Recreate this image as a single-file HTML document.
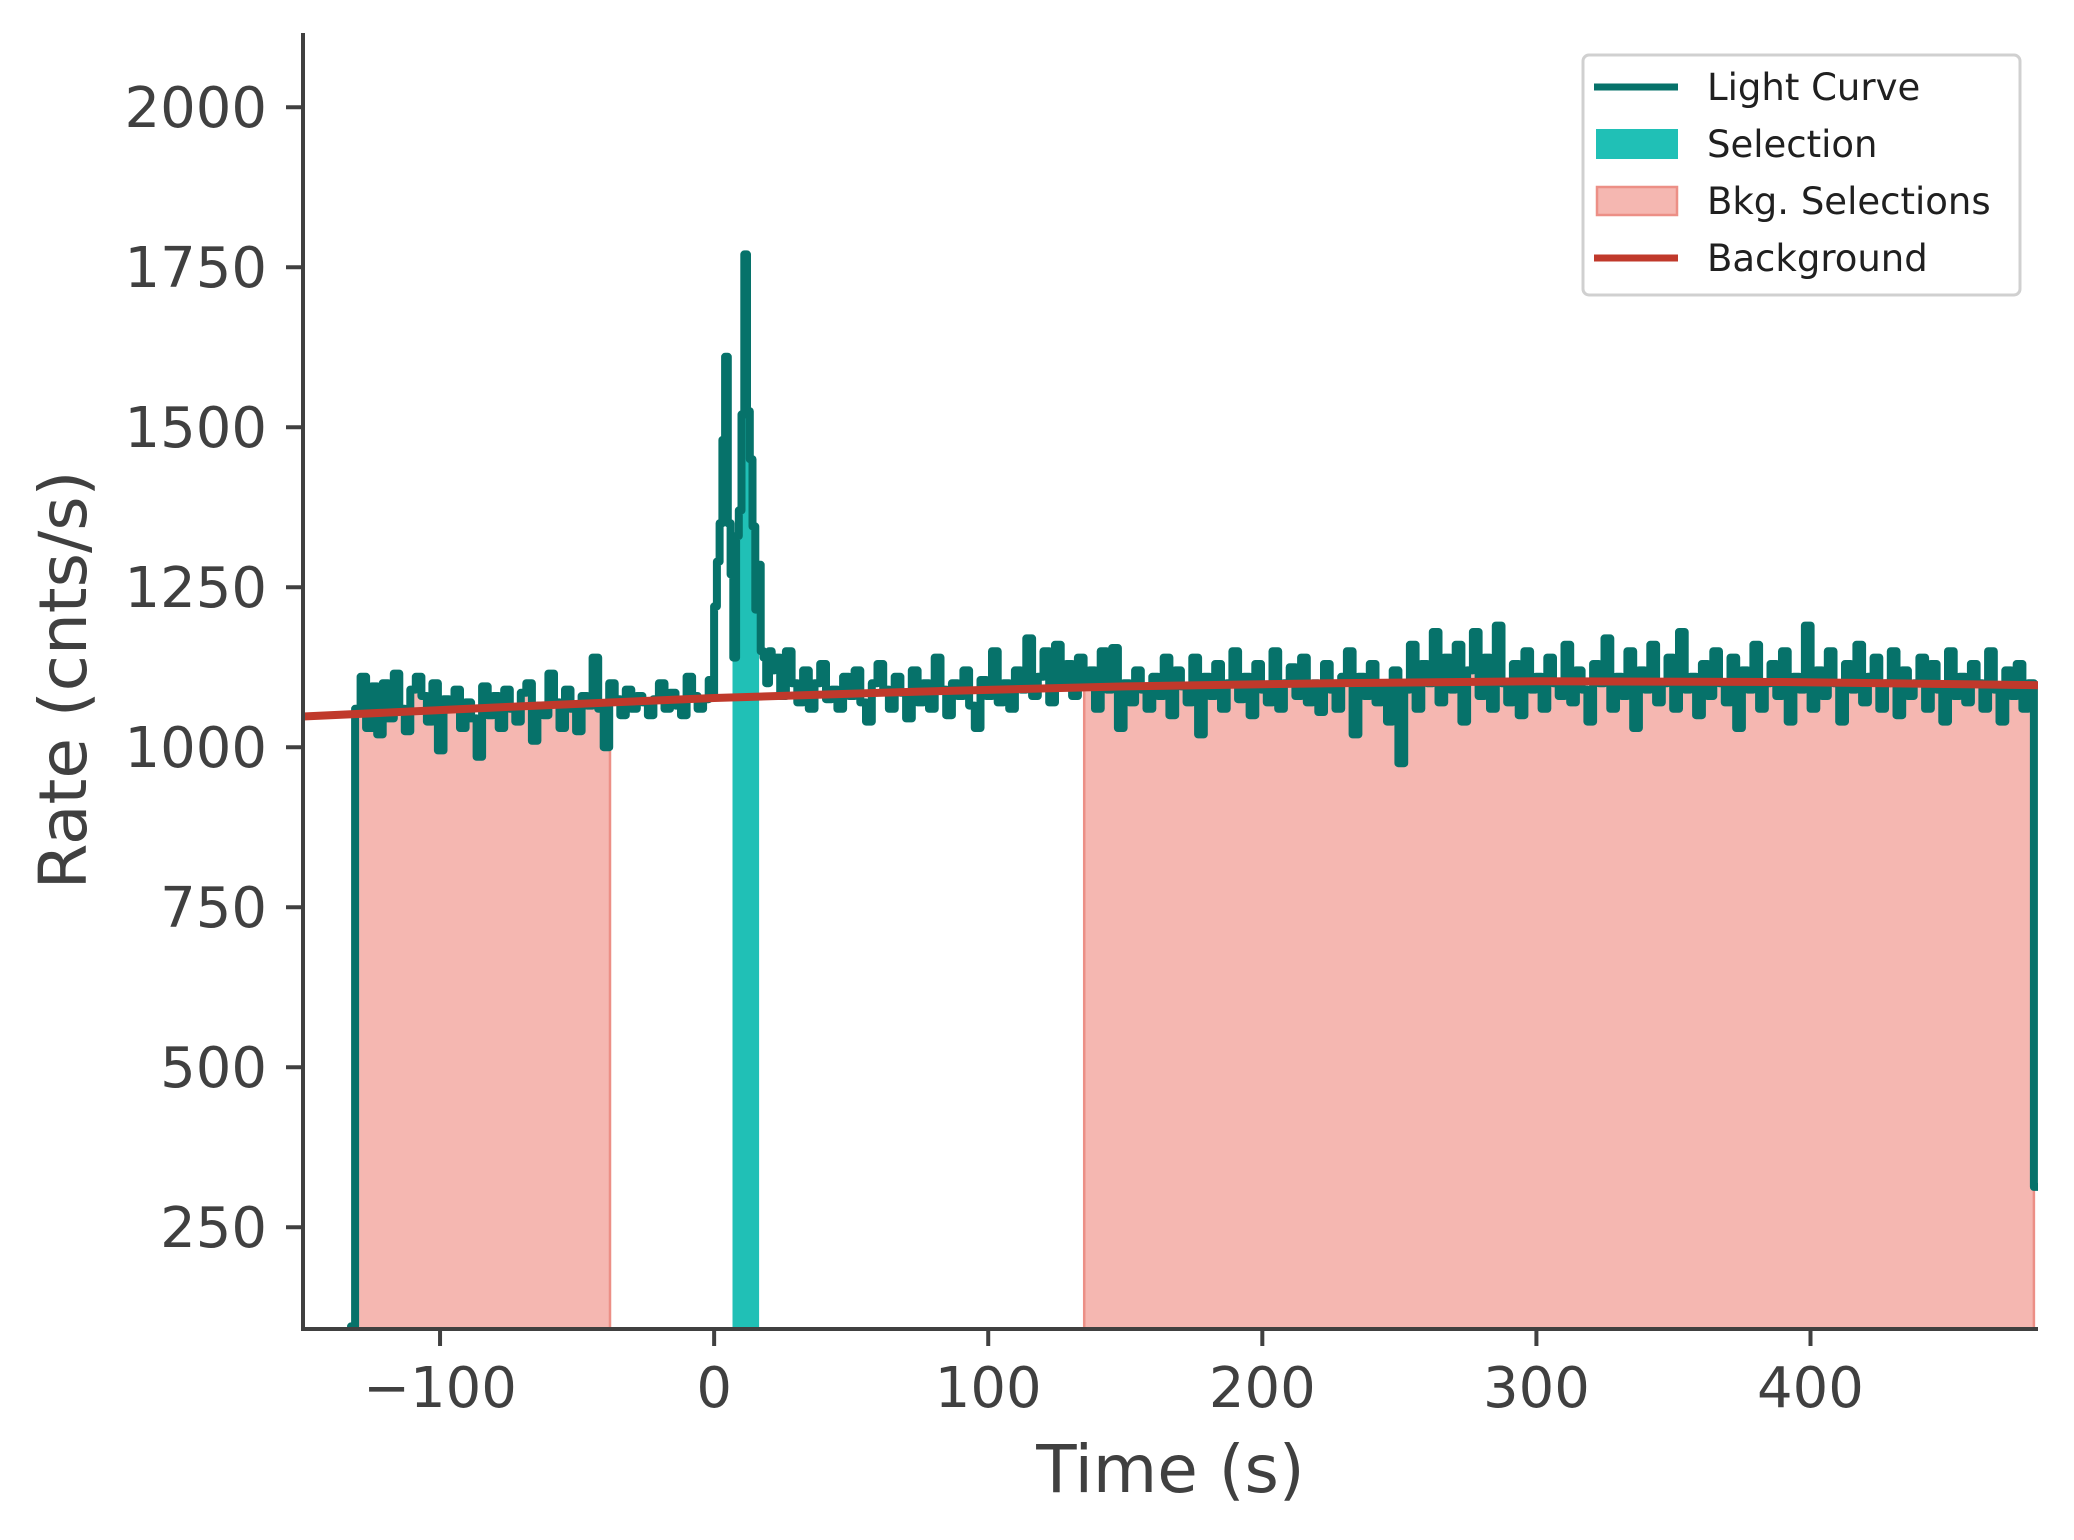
<!DOCTYPE html>
<html><head><meta charset="utf-8"><style>
html,body{margin:0;padding:0;background:#fff;}
svg{display:block;font-family:"DejaVu Sans","Liberation Sans",sans-serif;}
</style></head><body>
<svg id="chart" width="2074" height="1540" viewBox="0 0 2074 1540" xmlns="http://www.w3.org/2000/svg">
<g id="plot"></g>
<g id="axes"></g>
<g id="legend"></g>
</svg>
<script>
const xTicks=[-100,0,100,200,300,400];
const xTickLabels=["\u2212100","0","100","200","300","400"];
const yTicks=[250,500,750,1000,1250,1500,1750,2000];
const yTickLabels=["250","500","750","1000","1250","1500","1750","2000"];
const selection=[6.7,16.4];
const bkgSelections=[[-130.2,-38],[135,481.5]];
const bkgTimes=[-150,-75,0,75,150,225,300,390,483];
const bkgRates=[1048,1063,1077,1087,1095,1100,1103,1102,1097];
const lcStart=-132.5;
const preStartRate=[95];
const preRates=[1060,1110,1030,1095,1020,1100,1045,1115,1060,1025,1090,1110,1080,1040,1100,995,1075,1060,1090,1030,1070,1045,985,1095,1050,1080,1030,1090,1060,1040,1085,1100,1010,1065,1050,1115,1070,1030,1090,1060,1025,1080,1065,1140,1060,1000,1100,1075,1050,1090,1060,1080,1070,1050,1075,1100,1060,1085,1065,1050,1110,1080,1060,1075];
const burstRates=[1105,1080,1220,1290,1350,1480,1610,1350,1270,1140,1330,1370,1520,1770,1525,1450,1345,1215,1285,1150,1140,1100,1150,1120];
const postRates=[1140,1080,1150,1100,1070,1120,1060,1100,1130,1075,
1090,1060,1110,1080,1120,1070,1040,1100,1130,1090,
1060,1110,1085,1045,1120,1070,1100,1060,1140,1090,
1050,1100,1080,1120,1065,1030,1105,1080,1150,1070,
1100,1060,1120,1090,1170,1080,1110,1150,1070,1160,
1095,1130,1080,1140,1100,1120,1060,1150,1090,1155,
1030,1100,1070,1120,1090,1060,1110,1080,1140,1050,
1120,1095,1070,1140,1020,1110,1080,1130,1060,1100,
1150,1075,1110,1050,1130,1090,1070,1150,1060,1100,
1125,1080,1140,1070,1100,1055,1130,1090,1060,1110,
1150,1020,1110,1080,1130,1070,1100,1040,1120,975,
1090,1160,1060,1130,1100,1180,1070,1140,1090,1160,
1040,1120,1180,1080,1140,1060,1190,1100,1070,1130,
1050,1150,1090,1110,1060,1140,1100,1080,1160,1070,
1120,1090,1040,1130,1100,1170,1060,1110,1080,1150,
1030,1120,1090,1160,1070,1100,1140,1060,1180,1090,
1110,1050,1130,1080,1150,1100,1070,1140,1030,1120,
1090,1160,1060,1100,1130,1080,1150,1040,1110,1090,
1190,1060,1120,1080,1150,1100,1040,1130,1090,1160,
1070,1110,1140,1060,1100,1150,1050,1120,1080,1100,
1140,1060,1130,1090,1040,1150,1080,1110,1070,1130,
1100,1060,1150,1090,1040,1120,1080,1130,1060,1100];
const endRates=[313];

const L=303,R=2038,T=33,B=1329;
const X0=-150,X1=483,Y0=91,Y1=2116;
const xs=v=>L+(v-X0)/(X1-X0)*(R-L);
const ys=v=>B-(v-Y0)/(Y1-Y0)*(B-T);
const NS="http://www.w3.org/2000/svg";
function mk(tag,attrs,parent){const e=document.createElementNS(NS,tag);for(const k in attrs)e.setAttribute(k,attrs[k]);parent.appendChild(e);return e;}
const plot=document.getElementById('plot'),axes=document.getElementById('axes'),leg=document.getElementById('legend');

const pts=[];
let t=lcStart;
function addSeg(arr,dt){arr.forEach(v=>{pts.push([t,v]);t+=dt;});}
addSeg(preStartRate,1.5);
const preEnd=-2;
addSeg(preRates,(preEnd-t)/preRates.length);
addSeg(burstRates,1);
const postEnd=481.5;
addSeg(postRates,(postEnd-t)/postRates.length);
addSeg(endRates,1.5);
const segs=pts.map((p,i)=>[p[0],i<pts.length-1?pts[i+1][0]:p[0]+1.5,p[1]]);

function fillPath(a,b){
 let d='M'+xs(a).toFixed(1)+','+B;
 segs.forEach(s=>{
  const s0=Math.max(s[0],a),s1=Math.min(s[1],b);
  if(s1>s0){d+='L'+xs(s0).toFixed(1)+','+ys(s[2]).toFixed(1)+'L'+xs(s1).toFixed(1)+','+ys(s[2]).toFixed(1);}
 });
 d+='L'+xs(b).toFixed(1)+','+B+'Z';
 return d;
}
bkgSelections.forEach(s=>{
 const r=mk('path',{d:fillPath(s[0],s[1]),fill:'#F5B7B1',stroke:'#EC8F86','stroke-width':2.5},plot);
 
 
});
const sel=mk('path',{d:fillPath(selection[0],selection[1]),fill:'#20C0B6'},plot);



let d='';
segs.forEach((s,i)=>{
 d+=(i===0?'M':'L')+xs(s[0]).toFixed(1)+','+ys(s[2]).toFixed(1)+'L'+xs(s[1]).toFixed(1)+','+ys(s[2]).toFixed(1);
});
const lc=mk('path',{d:d,fill:'none',stroke:'#06726A','stroke-width':8,'stroke-linejoin':'round','stroke-linecap':'round'},plot);



let bd='';
bkgTimes.forEach((tt,i)=>{bd+=(i?'L':'M')+xs(tt).toFixed(1)+','+ys(bkgRates[i]).toFixed(1);});
const bl=mk('path',{d:bd,fill:'none',stroke:'#C0392B','stroke-width':8},plot);


const cv=mk('rect',{x:R,y:0,width:2074-R,height:1540,fill:'#fff'},plot);


const cv2=mk('rect',{x:0,y:B,width:2074,height:1540-B,fill:'#fff'},plot);



const ax1=mk('line',{x1:L,y1:T,x2:L,y2:B+2,stroke:'#404040','stroke-width':4},axes);


const ax2=mk('line',{x1:L-2,y1:B,x2:R,y2:B,stroke:'#404040','stroke-width':4},axes);


xTicks.forEach((v,i)=>{
 const tk=mk('line',{x1:xs(v),y1:B,x2:xs(v),y2:B+17,stroke:'#404040','stroke-width':4},axes);
 
 
 const tx=mk('text',{x:xs(v),y:B+78,'text-anchor':'middle','font-size':56,fill:'#404040'},axes);
 tx.textContent=xTickLabels[i];
 
 
});
yTicks.forEach((v,i)=>{
 const tk=mk('line',{x1:L-17,y1:ys(v),x2:L,y2:ys(v),stroke:'#404040','stroke-width':4},axes);
 
 
 const tx=mk('text',{x:L-36,y:ys(v)+20,'text-anchor':'end','font-size':56,fill:'#404040'},axes);
 tx.textContent=yTickLabels[i];
 
 
});
const xl=mk('text',{x:(L+R)/2,y:1492,'text-anchor':'middle','font-size':66,fill:'#404040'},axes);
xl.textContent='Time (s)';


const yl=mk('text',{x:0,y:0,'text-anchor':'middle','font-size':66,fill:'#404040',transform:'translate(86,680) rotate(-90)'},axes);
yl.textContent='Rate (cnts/s)';



const lb=mk('rect',{x:1583,y:55,width:437,height:240,rx:6,fill:'#fff',stroke:'#d0d0d0','stroke-width':3},leg);


const entries=[['Light Curve','line','#06726A'],['Selection','patch','#20C0B6'],['Bkg. Selections','bpatch','#F5B7B1'],['Background','line','#C0392B']];
const rowsY=[87,144,201,258];
entries.forEach((e,i)=>{
 const y=rowsY[i];
 let h;
 if(e[1]==='line') h=mk('line',{x1:1594,y1:y,x2:1678,y2:y,stroke:e[2],'stroke-width':7},leg);
 else if(e[1]==='patch') h=mk('rect',{x:1596,y:y-15,width:82,height:30,fill:e[2]},leg);
 else h=mk('rect',{x:1597,y:y-14,width:80,height:28,fill:e[2],stroke:'#EC8F86','stroke-width':2.5},leg);
 
 
 const tx=mk('text',{x:1707,y:y+13,'font-size':37,fill:'#202020'},leg);
 tx.textContent=e[0];
 
 
});
</script>
</body></html>
